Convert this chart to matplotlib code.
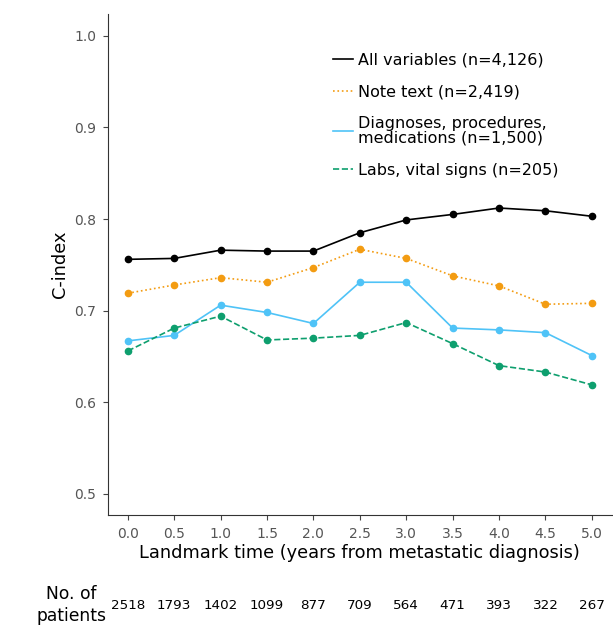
import matplotlib.pyplot as plt
from matplotlib.lines import Line2D

landmark = [0.0, 0.5, 1.0, 1.5, 2.0, 2.5, 3.0, 3.5, 4.0, 4.5, 5.0]
all_vars = [0.756, 0.757, 0.766, 0.765, 0.765, 0.785, 0.799, 0.805, 0.812, 0.809, 0.803]
note_text = [0.719, 0.728, 0.736, 0.731, 0.747, 0.767, 0.757, 0.738, 0.727, 0.707, 0.708]
diag_proc = [0.667, 0.673, 0.706, 0.698, 0.686, 0.731, 0.731, 0.681, 0.679, 0.676, 0.651]
labs_vitals = [0.656, 0.681, 0.694, 0.668, 0.670, 0.673, 0.687, 0.664, 0.640, 0.633, 0.619]
n_patients = [2518, 1793, 1402, 1099, 877, 709, 564, 471, 393, 322, 267]

SERIES = [
    ("All variables (n=4,126)", all_vars, "black", "-"),
    ("Note text (n=2,419)", note_text, "#F39C12", ":"),
    ("Diagnoses, procedures,\nmedications (n=1,500)", diag_proc, "#4FC3F7", "-"),
    ("Labs, vital signs (n=205)", labs_vitals, "#0E9F6E", "--"),
]

fig = plt.figure(figsize=(6.13, 6.25), dpi=100)
ax = fig.add_axes([0.176, 0.176, 0.822, 0.802])

handles = []
for label, values, color, ls in SERIES:
    ax.plot(landmark, values, color=color, linestyle=ls, linewidth=1.2,
            marker="o", markersize=4.5)
    handles.append(Line2D([], [], color=color, linestyle=ls, linewidth=1.2, label=label))

ax.set_xlim(-0.215, 5.215)
ax.set_ylim(0.477, 1.024)
ax.set_xticks(landmark)
ax.set_xticklabels([f"{v:.1f}" for v in landmark])
ax.set_yticks([0.5, 0.6, 0.7, 0.8, 0.9, 1.0])
ax.tick_params(labelsize=10, colors="#444444", labelcolor="#555555", pad=5)
for side in ("top", "right"):
    ax.spines[side].set_visible(False)
for side in ("left", "bottom"):
    ax.spines[side].set_color("#333333")

ax.set_xlabel("Landmark time (years from metastatic diagnosis)", fontsize=12.8, labelpad=2)
ax.set_ylabel("C-index", fontsize=12.8)

leg = ax.legend(handles=handles, loc="upper left", bbox_to_anchor=(0.446, 0.922),
                frameon=False, fontsize=11.5, handlelength=1.25, labelspacing=1.05,
                handletextpad=0.35, borderaxespad=0, borderpad=0)
for t in leg.get_texts():
    t.set_linespacing(0.95)

for x, n in zip(landmark, n_patients):
    ax.annotate(str(n), xy=(x, 0), xycoords=("data", "figure fraction"),
                xytext=(0, 14), textcoords="offset points",
                ha="center", va="center", fontsize=9.7)
fig.text(0.117, 0.032, "No. of\npatients", ha="center", va="center",
         fontsize=12.3, linespacing=1.3)

fig.savefig("out.png", dpi=100)
